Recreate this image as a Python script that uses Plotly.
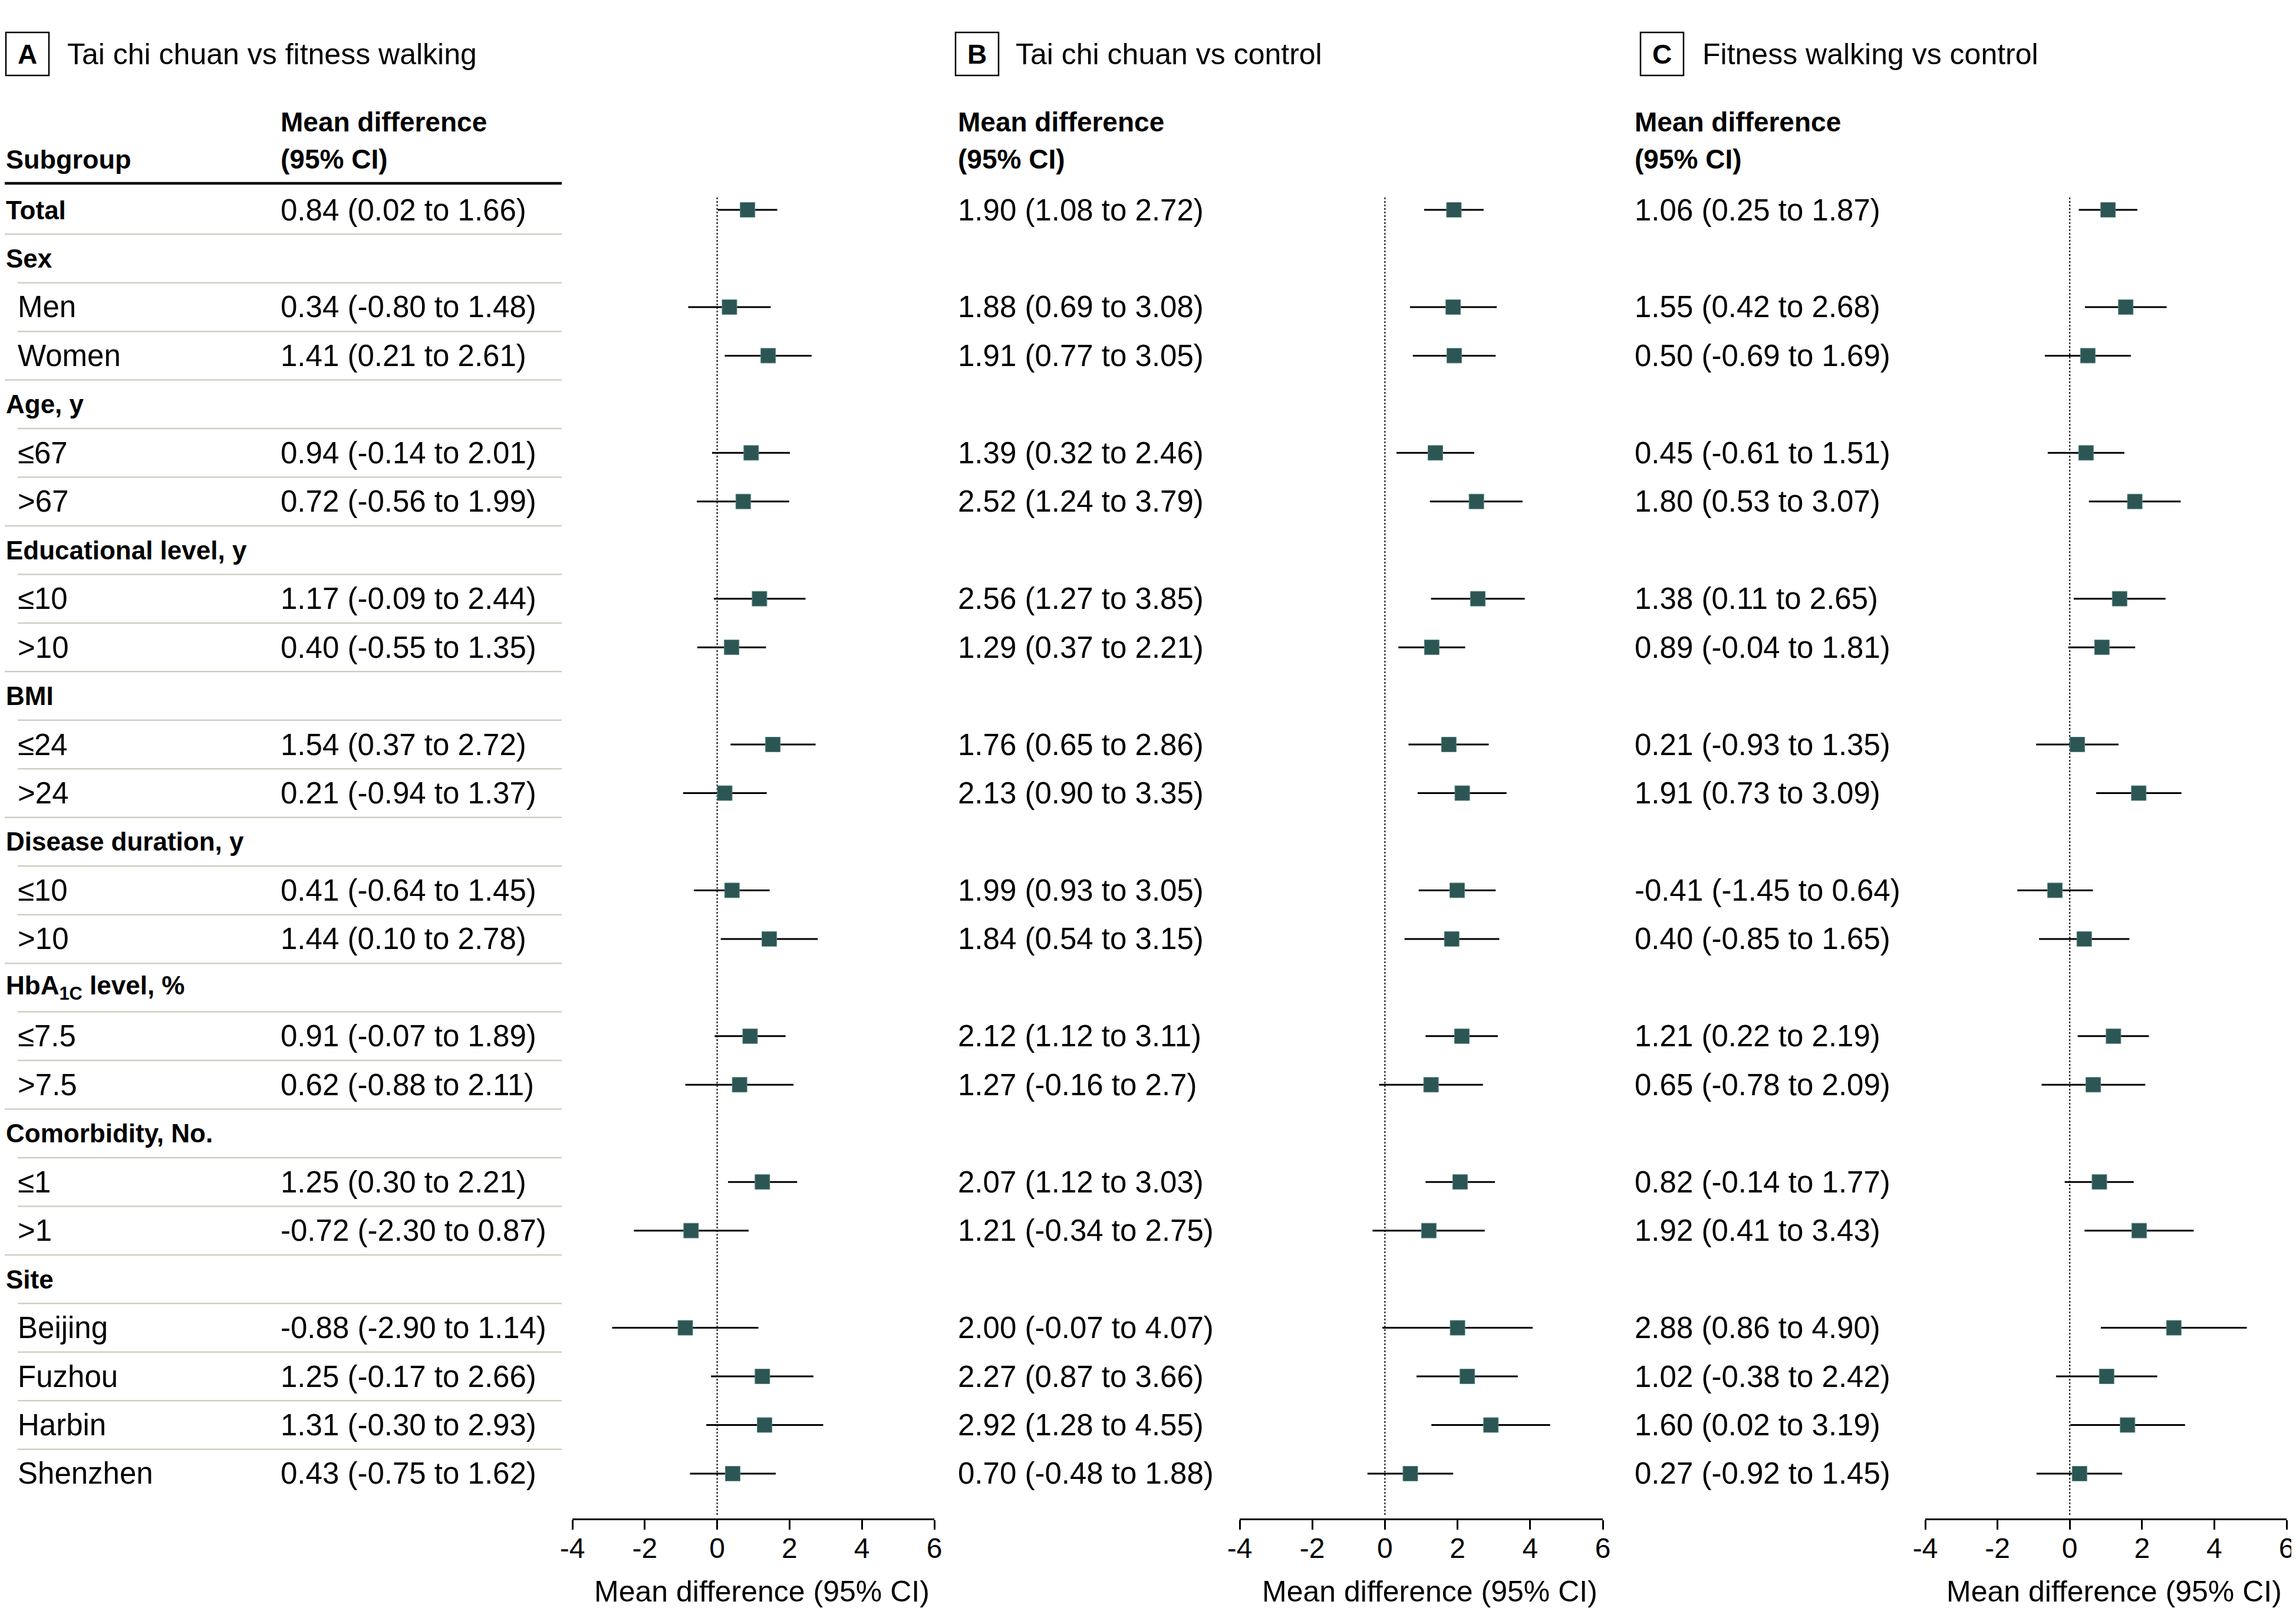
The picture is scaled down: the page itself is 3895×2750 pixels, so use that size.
import plotly.graph_objects as go

# The page body keeps the browser's default 8px margin, so the figure is
# sized to fill the rest of the 3895x2750 window and geometry is given in
# page pixels, converted with OFF.
PAGE_W, PAGE_H = 3895, 2750
OFF = 8
W, H = PAGE_W - OFF, PAGE_H - OFF
FONT = "Liberation Sans, Arial, Helvetica, sans-serif"

# ---------------- data ----------------
row_labels = ["Total", "Sex", "Men", "Women", "Age, y", "≤67", ">67",
              "Educational level, y", "≤10", ">10", "BMI", "≤24", ">24",
              "Disease duration, y", "≤10", ">10", "HbA<sub>1C</sub> level, %",
              "≤7.5", ">7.5", "Comorbidity, No.", "≤1", ">1", "Site",
              "Beijing", "Fuzhou", "Harbin", "Shenzhen"]
row_kinds = ["total", "group", "sub", "sub", "group", "sub", "sub",
             "group", "sub", "sub", "group", "sub", "sub",
             "group", "sub", "sub", "group",
             "sub", "sub", "group", "sub", "sub", "group",
             "sub", "sub", "sub", "sub"]

panel_letters = ["A", "B", "C"]
panel_titles = ["Tai chi chuan vs fitness walking", "Tai chi chuan vs control",
                "Fitness walking vs control"]

# Panel A: Tai chi chuan vs fitness walking
a_est = ["0.84", "0.34", "1.41", "0.94", "0.72", "1.17", "0.40", "1.54", "0.21", "0.41",
         "1.44", "0.91", "0.62", "1.25", "-0.72", "-0.88", "1.25", "1.31", "0.43"]
a_lo = ["0.02", "-0.80", "0.21", "-0.14", "-0.56", "-0.09", "-0.55", "0.37", "-0.94", "-0.64",
        "0.10", "-0.07", "-0.88", "0.30", "-2.30", "-2.90", "-0.17", "-0.30", "-0.75"]
a_hi = ["1.66", "1.48", "2.61", "2.01", "1.99", "2.44", "1.35", "2.72", "1.37", "1.45",
        "2.78", "1.89", "2.11", "2.21", "0.87", "1.14", "2.66", "2.93", "1.62"]

# Panel B: Tai chi chuan vs control
b_est = ["1.90", "1.88", "1.91", "1.39", "2.52", "2.56", "1.29", "1.76", "2.13", "1.99",
         "1.84", "2.12", "1.27", "2.07", "1.21", "2.00", "2.27", "2.92", "0.70"]
b_lo = ["1.08", "0.69", "0.77", "0.32", "1.24", "1.27", "0.37", "0.65", "0.90", "0.93",
        "0.54", "1.12", "-0.16", "1.12", "-0.34", "-0.07", "0.87", "1.28", "-0.48"]
b_hi = ["2.72", "3.08", "3.05", "2.46", "3.79", "3.85", "2.21", "2.86", "3.35", "3.05",
        "3.15", "3.11", "2.7", "3.03", "2.75", "4.07", "3.66", "4.55", "1.88"]

# Panel C: Fitness walking vs control
c_est = ["1.06", "1.55", "0.50", "0.45", "1.80", "1.38", "0.89", "0.21", "1.91", "-0.41",
         "0.40", "1.21", "0.65", "0.82", "1.92", "2.88", "1.02", "1.60", "0.27"]
c_lo = ["0.25", "0.42", "-0.69", "-0.61", "0.53", "0.11", "-0.04", "-0.93", "0.73", "-1.45",
        "-0.85", "0.22", "-0.78", "-0.14", "0.41", "0.86", "-0.38", "0.02", "-0.92"]
c_hi = ["1.87", "2.68", "1.69", "1.51", "3.07", "2.65", "1.81", "1.35", "3.09", "0.64",
        "1.65", "2.19", "2.09", "1.77", "3.43", "4.90", "2.42", "3.19", "1.45"]

tick_vals = [-4, -2, 0, 2, 4, 6]
tick_text = ["-4", "-2", "0", "2", "4", "6"]
x_title = "Mean difference (95% CI)"

panels = [(a_est, a_lo, a_hi), (b_est, b_lo, b_hi), (c_est, c_lo, c_hi)]

# ---------------- layout geometry (page pixels) ----------------
ROW0_PX = 356.0
ROW_STEP = 82.46
AXIS_PX = 2576.0
axis_px = [(971, 1585), (2103, 2719), (3266, 3879)]
text_px = [474, 1623, 2771]
box_px = [(10, 83), (1621, 1694), (2783, 2856)]
title_px = [112, 1721, 2886]

def row_of(py):
    return (py - ROW0_PX) / ROW_STEP

def fx(px):
    return (px - OFF) / W

def fy(py):
    return 1 - (py - OFF) / H

y_top = row_of(OFF)
y_bot = row_of(AXIS_PX)

data_rows = [i for i, k in enumerate(row_kinds) if k != "group"]

fig = go.Figure()
MARKER = "#2b5654"
annotations = []
shapes = []

for p, (est, lo, hi) in enumerate(panels):
    xa = "x" if p == 0 else f"x{p + 1}"
    est_f = [float(v) for v in est]
    lo_f = [float(v) for v in lo]
    hi_f = [float(v) for v in hi]
    lx, ly = [], []
    for r, l, h in zip(data_rows, lo_f, hi_f):
        lx += [l, h, None]
        ly += [r, r, None]
    fig.add_trace(go.Scatter(x=lx, y=ly, mode="lines", xaxis=xa, yaxis="y",
                             line=dict(color="black", width=3), hoverinfo="skip",
                             showlegend=False))
    fig.add_trace(go.Scatter(x=est_f, y=data_rows, mode="markers", xaxis=xa, yaxis="y",
                             marker=dict(symbol="square", size=25, color=MARKER,
                                         line=dict(color="#5b8785", width=1)),
                             showlegend=False))
    # dotted zero line
    shapes.append(dict(type="line", xref=xa, yref="y", x0=0, x1=0,
                       y0=row_of(335), y1=row_of(AXIS_PX - 6),
                       line=dict(color="black", width=2, dash="dot"), layer="below"))

# Panel headers
for p in range(3):
    x0, x1 = box_px[p]
    shapes.append(dict(type="rect", xref="paper", yref="paper",
                       x0=fx(x0), x1=fx(x1), y0=fy(128), y1=fy(55),
                       line=dict(color="black", width=2.5), fillcolor="rgba(0,0,0,0)"))
    annotations.append(dict(text=f"<b>{panel_letters[p]}</b>", xref="paper", yref="paper",
                            x=fx((x0 + x1) / 2), y=fy(92), xanchor="center", yanchor="middle",
                            showarrow=False, font=dict(size=46, color="black", family=FONT)))
    annotations.append(dict(text=panel_titles[p], xref="paper", yref="paper",
                            x=fx(title_px[p]), y=fy(92), xanchor="left", yanchor="middle",
                            showarrow=False, font=dict(size=50, color="black", family=FONT)))
    annotations.append(dict(text="<b>Mean difference</b>", xref="paper", yref="paper",
                            x=fx(text_px[p]), y=fy(207), xanchor="left", yanchor="middle",
                            showarrow=False, font=dict(size=46, color="black", family=FONT)))
    annotations.append(dict(text="<b>(95% CI)</b>", xref="paper", yref="paper",
                            x=fx(text_px[p]), y=fy(270), xanchor="left", yanchor="middle",
                            showarrow=False, font=dict(size=46, color="black", family=FONT)))
    # CI text
    est, lo, hi = panels[p]
    for r, e, l, h in zip(data_rows, est, lo, hi):
        annotations.append(dict(text=f"{e} ({l} to {h})", xref="paper", yref="y",
                                x=fx(text_px[p]), y=r, xanchor="left", yanchor="middle",
                                showarrow=False, font=dict(size=51, color="black", family=FONT)))
    # axis title
    annotations.append(dict(text=x_title, xref="paper", yref="paper",
                            x=fx((axis_px[p][0] + axis_px[p][1]) / 2 + 14), y=fy(2700),
                            xanchor="center", yanchor="middle", showarrow=False,
                            font=dict(size=50, color="black", family=FONT)))

# Subgroup column
annotations.append(dict(text="<b>Subgroup</b>", xref="paper", yref="paper",
                        x=fx(OFF), y=fy(270), xanchor="left", yanchor="middle",
                        showarrow=False, font=dict(size=45, color="black", family=FONT)))
for i, (lab, kind) in enumerate(zip(row_labels, row_kinds)):
    if kind == "sub":
        annotations.append(dict(text=lab, xref="paper", yref="y", x=fx(28), y=i,
                                xanchor="left", yanchor="middle", showarrow=False,
                                font=dict(size=51, color="black", family=FONT)))
    else:
        annotations.append(dict(text=f"<b>{lab}</b>", xref="paper", yref="y", x=fx(OFF), y=i,
                                xanchor="left", yanchor="middle", showarrow=False,
                                font=dict(size=44, color="black", family=FONT)))

# thick header rule
shapes.append(dict(type="line", xref="paper", yref="y", x0=fx(OFF), x1=fx(953),
                   y0=row_of(311), y1=row_of(311), line=dict(color="black", width=4.5)))
# row separators
for i in range(len(row_labels) - 1):
    start = 30 if row_kinds[i + 1] == "sub" else OFF
    shapes.append(dict(type="line", xref="paper", yref="y", x0=fx(start), x1=fx(953),
                       y0=i + 0.5, y1=i + 0.5, line=dict(color="#ccd0c3", width=2.5)))

axis_common = dict(range=[-4, 6], anchor="y", showline=True, linecolor="black", linewidth=3,
                   ticks="outside", ticklen=16, tickwidth=3, tickcolor="black",
                   tickmode="array", tickvals=tick_vals, ticktext=tick_text,
                   tickfont=dict(size=48, color="black", family=FONT),
                   ticklabelstandoff=-10,
                   showgrid=False, zeroline=False, fixedrange=True, automargin=False)

layout = dict(
    template="none",
    width=W, height=H, margin=dict(l=0, r=0, t=0, b=0),
    paper_bgcolor="white", plot_bgcolor="white",
    font=dict(family=FONT, color="black"),
    showlegend=False,
    yaxis=dict(domain=[fy(AXIS_PX), 1], range=[y_bot, y_top], visible=False,
               showgrid=False, zeroline=False, fixedrange=True, anchor="x"),
    annotations=annotations,
    shapes=shapes,
)
for p in range(3):
    key = "xaxis" if p == 0 else f"xaxis{p + 1}"
    layout[key] = dict(axis_common, domain=[fx(axis_px[p][0]), fx(axis_px[p][1])])

fig.update_layout(**layout)
fig.write_html("out.html")
